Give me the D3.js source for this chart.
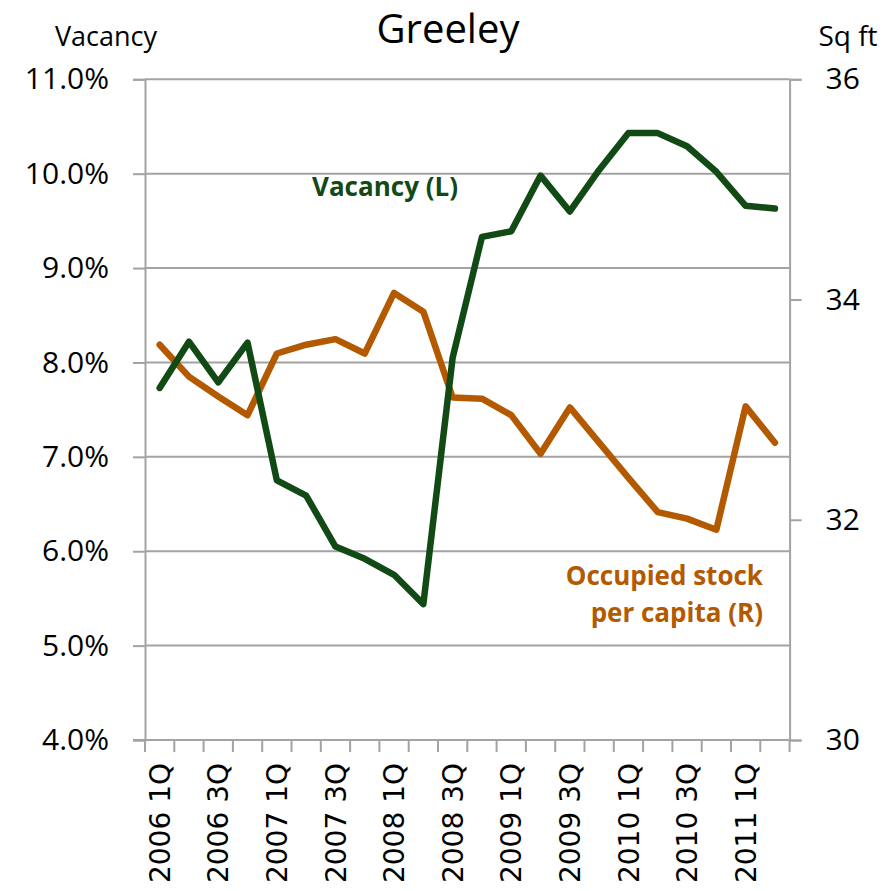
<!DOCTYPE html>
<html>
<head>
<meta charset="utf-8">
<script src="https://cdn.jsdelivr.net/npm/d3@7/dist/d3.min.js"></script>
<style>
  body { margin: 0; background: #fff; }
  svg { display: block; }
</style>
</head>
<body>
<div id="chart"></div>
<script>
const quarters = ["2006 1Q", "2006 2Q", "2006 3Q", "2006 4Q",
                  "2007 1Q", "2007 2Q", "2007 3Q", "2007 4Q",
                  "2008 1Q", "2008 2Q", "2008 3Q", "2008 4Q",
                  "2009 1Q", "2009 2Q", "2009 3Q", "2009 4Q",
                  "2010 1Q", "2010 2Q", "2010 3Q", "2010 4Q",
                  "2011 1Q", "2011 2Q"];
const quarterLabels = ["2006 1Q", "2006 3Q", "2007 1Q", "2007 3Q", "2008 1Q", "2008 3Q",
                       "2009 1Q", "2009 3Q", "2010 1Q", "2010 3Q", "2011 1Q"];
// vacancy rate, left axis
const vacancy = [0.0773, 0.0822, 0.0779, 0.0821, 0.0675, 0.0659, 0.0605, 0.0592, 0.0575, 0.0544,
                 0.0805, 0.0933, 0.0939, 0.0998, 0.0960, 0.1004, 0.1043, 0.1043, 0.1029, 0.1002,
                 0.0966, 0.0963];
// occupied stock per capita (sq ft), right axis
const stockPerCapita = [33.59, 33.30, 33.12, 32.95, 33.51, 33.59, 33.64, 33.51, 34.06, 33.89,
                        33.11, 33.10, 32.95, 32.60, 33.02, 32.70, 32.38, 32.07, 32.01, 31.91,
                        33.03, 32.70];
const leftTicks = [0.04, 0.05, 0.06, 0.07, 0.08, 0.09, 0.10, 0.11];
const rightTicks = [30, 32, 34, 36];

const W = 894, H = 891;
const margin = {top: 79.3, right: 104.4, bottom: 151, left: 145};
const width = W - margin.left - margin.right;
const height = H - margin.top - margin.bottom;

const green = "#124a16";
const orange = "#b35a00";
const grey = "#a3a3a3";

const svg = d3.select("#chart")
              .append("svg")
              .attr("width", W)
              .attr("height", H);
const g = svg.append("g")
             .attr("transform", "translate(" + margin.left + "," + margin.top + ")");

const x = d3.scaleBand().domain(quarters).range([0, width]).padding(0);
const yL = d3.scaleLinear().domain([0.04, 0.11]).range([height, 0]);
const yR = d3.scaleLinear().domain([30, 36]).range([height, 0]);

// gridlines
g.append("g")
 .selectAll("line")
 .data(leftTicks)
 .enter()
 .append("line")
 .attr("x1", 0)
 .attr("x2", width)
 .attr("y1", d => yL(d))
 .attr("y2", d => yL(d))
 .attr("stroke", grey)
 .attr("stroke-width", 2);

// left axis
const leftAxis = g.append("g")
                  .call(d3.axisLeft(yL).tickValues(leftTicks).tickFormat(d3.format(".1%")).tickSize(12).tickPadding(24));
// right axis
const rightAxis = g.append("g")
                   .attr("transform", "translate(" + width + ",0)")
                   .call(d3.axisRight(yR).tickValues(rightTicks).tickFormat(d3.format("d")).tickSize(12).tickPadding(24));
[leftAxis, rightAxis].forEach(a => {
    a.select(".domain").attr("stroke", grey).attr("stroke-width", 2);
    a.selectAll(".tick line").attr("stroke", grey).attr("stroke-width", 2);
    a.selectAll("text")
     .style("font-family", "'Open Sans', sans-serif")
     .style("font-size", "30px")
     .attr("fill", "#000");
});

// bottom axis: tick marks between categories, labels at every other quarter
const bottom = g.append("g").attr("transform", "translate(0," + height + ")");
bottom.append("line")
      .attr("x1", -12).attr("x2", width)
      .attr("stroke", grey).attr("stroke-width", 2);
bottom.selectAll("line.qtick")
      .data(quarters.concat(["end"]))
      .enter()
      .append("line")
      .attr("class", "qtick")
      .attr("x1", d => d === "end" ? width : x(d))
      .attr("x2", d => d === "end" ? width : x(d))
      .attr("y1", 0).attr("y2", 12)
      .attr("stroke", grey).attr("stroke-width", 2);
const xAxis = bottom.append("g")
                    .call(d3.axisBottom(x).tickValues(quarterLabels).tickSize(0).tickPadding(0));
xAxis.select(".domain").remove();
xAxis.selectAll("text")
     .attr("transform", "translate(0,23)rotate(-90)")
     .attr("dy", "0.36em")
     .attr("y", 0)
     .attr("x", 0)
     .style("text-anchor", "end")
     .style("font-family", "'DejaVu Sans', sans-serif")
     .style("font-size", "28px")
     .attr("fill", "#000");

// lines
const vacLine = d3.line()
                  .x((d, i) => x(quarters[i]) + x.bandwidth() / 2)
                  .y(d => yL(d));
const stockLine = d3.line()
                    .x((d, i) => x(quarters[i]) + x.bandwidth() / 2)
                    .y(d => yR(d));
g.append("path")
 .datum(stockPerCapita)
 .attr("d", stockLine)
 .attr("fill", "none")
 .attr("stroke", orange)
 .attr("stroke-width", 6.5)
 .attr("stroke-linejoin", "round")
 .attr("stroke-linecap", "round");
g.append("path")
 .datum(vacancy)
 .attr("d", vacLine)
 .attr("fill", "none")
 .attr("stroke", green)
 .attr("stroke-width", 6.5)
 .attr("stroke-linejoin", "round")
 .attr("stroke-linecap", "round");

// titles
svg.append("text")
   .attr("x", 448).attr("y", 43)
   .attr("text-anchor", "middle")
   .style("font-family", "'Open Sans', sans-serif")
   .style("font-size", "40px")
   .text("Greeley");
svg.append("text")
   .attr("x", 106).attr("y", 46)
   .attr("text-anchor", "middle")
   .style("font-family", "'Open Sans', sans-serif")
   .style("font-size", "27px")
   .text("Vacancy");
svg.append("text")
   .attr("x", 848).attr("y", 46)
   .attr("text-anchor", "middle")
   .style("font-family", "'Open Sans', sans-serif")
   .style("font-size", "28px")
   .text("Sq ft");

// series labels
svg.append("text")
   .attr("x", 385).attr("y", 196)
   .attr("text-anchor", "middle")
   .style("font-family", "'Open Sans', sans-serif")
   .style("font-weight", "bold")
   .style("font-size", "26px")
   .attr("fill", green)
   .text("Vacancy (L)");
const occ = svg.append("text")
               .attr("text-anchor", "end")
               .style("font-family", "'Open Sans', sans-serif")
               .style("font-weight", "bold")
               .style("font-size", "26px")
               .attr("fill", orange);
occ.append("tspan").attr("x", 763).attr("y", 585).text("Occupied stock");
occ.append("tspan").attr("x", 763).attr("y", 622).text("per capita (R)");
</script>
</body>
</html>
